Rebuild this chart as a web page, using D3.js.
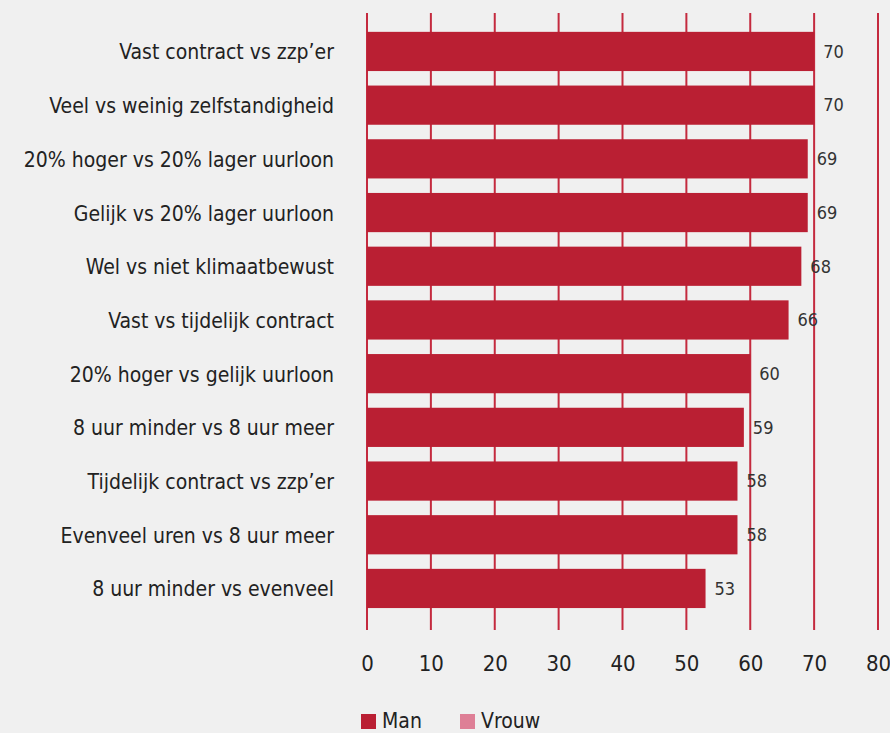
<!DOCTYPE html>
<html>
<head>
<meta charset="utf-8">
<script src="https://cdn.jsdelivr.net/npm/d3@7"></script>
<style>
  html, body { margin: 0; padding: 0; background: #f0f0f0; }
  svg { display: block; }
  text { font-family: "Liberation Sans Narrow", "DejaVu Sans Condensed", "Open Sans", sans-serif; }
</style>
</head>
<body>
<svg id="chart" width="890" height="733"></svg>
<script>
var categories = [
    'Vast contract vs zzp\u2019er',
    'Veel vs weinig zelfstandigheid',
    '20% hoger vs 20% lager uurloon',
    'Gelijk vs 20% lager uurloon',
    'Wel vs niet klimaatbewust',
    'Vast vs tijdelijk contract',
    '20% hoger vs gelijk uurloon',
    '8 uur minder vs 8 uur meer',
    'Tijdelijk contract vs zzp\u2019er',
    'Evenveel uren vs 8 uur meer',
    '8 uur minder vs evenveel'
]
var manValues = [70, 70, 69, 69, 68, 66, 60, 59, 58, 58, 53]
var xTicks = [0, 10, 20, 30, 40, 50, 60, 70, 80]
var legendItems = ['Man', 'Vrouw']

var red = '#ba1f33'
var pink = '#de7f96'

var svg = d3.select('#chart')

var x = d3.scaleLinear()
            .domain([0, 80])
            .range([367, 878])

var y = d3.scaleBand()
            .domain(categories)
            .range([24.6, 615.3])
            .paddingInner(0.27)
            .paddingOuter(0.135)

// gridlines behind the bars
svg.selectAll('.grid')
    .data(xTicks)
    .join('line')
    .attr('class', 'grid')
    .attr('x1', d => x(d))
    .attr('x2', d => x(d))
    .attr('y1', 13)
    .attr('y2', 630)
    .attr('stroke', '#c42a3e')
    .attr('stroke-width', 2)

svg.selectAll('.bar')
    .data(manValues)
    .join('rect')
    .attr('class', 'bar')
    .attr('x', x(0))
    .attr('y', (d, i) => y(categories[i]))
    .attr('width', d => x(d) - x(0))
    .attr('height', y.bandwidth())
    .attr('fill', red)

// value labels
svg.selectAll('.val')
    .data(manValues)
    .join('text')
    .attr('class', 'val')
    .attr('x', d => x(d) + 9)
    .attr('y', (d, i) => y(categories[i]) + y.bandwidth() / 2)
    .attr('dy', '0.35em')
    .attr('font-size', 18)
    .attr('fill', '#333')
    .text(d => d)

// category labels
svg.selectAll('.cat')
    .data(categories)
    .join('text')
    .attr('class', 'cat')
    .attr('x', 334)
    .attr('y', d => y(d) + y.bandwidth() / 2)
    .attr('dy', '0.38em')
    .attr('text-anchor', 'end')
    .attr('font-size', 21)
    .attr('fill', '#222')
    .text(d => d)

// x axis tick labels
var xAxis = d3.axisBottom(x).tickValues(xTicks).tickSize(0).tickPadding(0)
var axisG = svg.append('g')
    .attr('transform', 'translate(0,655)')
    .call(xAxis)
axisG.select('.domain').remove()
axisG.selectAll('text')
    .attr('font-size', 22)
    .attr('fill', '#222')
    .attr('dy', '0.35em')
    .attr('y', 8)

// legend
var legendColor = d3.scaleOrdinal().domain(legendItems).range([red, pink])
var legend = svg.append('g')
var lx = [361, 460]
legend.selectAll('rect')
    .data(legendItems)
    .join('rect')
    .attr('x', (d, i) => lx[i])
    .attr('y', 714)
    .attr('width', 15)
    .attr('height', 15)
    .attr('fill', d => legendColor(d))
legend.selectAll('text')
    .data(legendItems)
    .join('text')
    .attr('x', (d, i) => lx[i] + 21)
    .attr('y', 728)
    .attr('font-size', 21)
    .attr('fill', '#222')
    .text(d => d)
</script>
</body>
</html>
